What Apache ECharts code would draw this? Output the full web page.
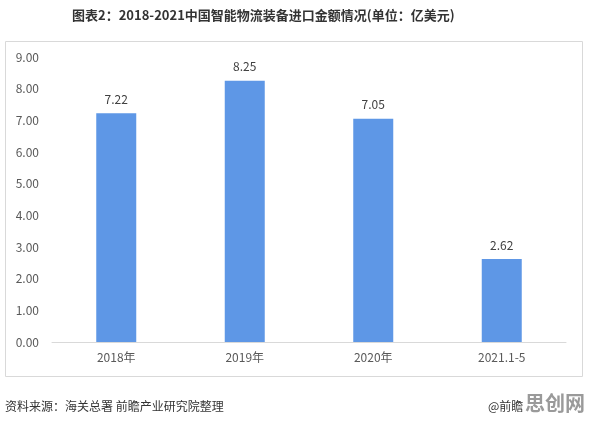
<!DOCTYPE html>
<html><head><meta charset="utf-8">
<script src="https://cdn.jsdelivr.net/npm/echarts@6/dist/echarts.min.js"></script>
<style>html,body{margin:0;padding:0;background:#fff}#c{width:596px;height:423px}</style>
</head><body><div id="c"></div>
<script>
const categories = ['2018年', '2019年', '2020年', '2021.1-5'];
const values = [7.22, 8.25, 7.05, 2.62];
const yTicks = { min: 0, max: 9, interval: 1 };
const titleText = '图表2：2018-2021中国智能物流装备进口金额情况(单位：亿美元)';
const sourceText = '资料来源：海关总署 前瞻产业研究院整理';

const chart = echarts.init(document.getElementById('c'), null, {renderer: 'canvas'});
const font = '"Noto Sans CJK SC", "Noto Sans", sans-serif';
chart.setOption({
  animation: false,
  textStyle: { fontFamily: font },
  grid: { left: 52, right: 30, top: 57, bottom: 81 },
  xAxis: {
    type: 'category',
    data: categories,
    axisLine: { lineStyle: { color: '#d9d9d9' } },
    axisTick: { show: false },
    axisLabel: { color: '#595959', fontSize: 12, margin: 9, fontFamily: font }
  },
  yAxis: {
    type: 'value',
    min: yTicks.min, max: yTicks.max, interval: yTicks.interval,
    splitLine: { show: false },
    axisLine: { show: false },
    axisTick: { show: false },
    axisLabel: { color: '#595959', fontSize: 12, margin: 13, fontFamily: font,
      formatter: v => v.toFixed(2) }
  },
  series: [{
    type: 'bar',
    data: values,
    barWidth: 40,
    itemStyle: { color: '#5e97e6' },
    label: { show: true, position: 'top', distance: 8, color: '#404040', fontSize: 12,
      fontFamily: font, formatter: p => p.value.toFixed(2) }
  }],
  graphic: [
    { type: 'rect', shape: { x: 5.5, y: 41.5, width: 577, height: 335 },
      style: { fill: 'none', stroke: '#d9d9d9', lineWidth: 1 }, silent: true, z: -1 },
    { type: 'text', left: 72, top: 9,
      style: { text: titleText, font: 'bold 13px ' + font, fill: '#333333' } },
    { type: 'text', left: 5, top: 400,
      style: { text: sourceText, font: '12px ' + font, fill: '#333333' } },
    { type: 'text', left: 488, top: 400,
      style: { text: '@前瞻', font: '12px ' + font, fill: '#333333' } },
    { type: 'text', left: 525, top: 393,
      style: { text: '思创网', font: 'bold 20px ' + font, fill: '#9a9a9a' } }
  ]
});
</script></body></html>
